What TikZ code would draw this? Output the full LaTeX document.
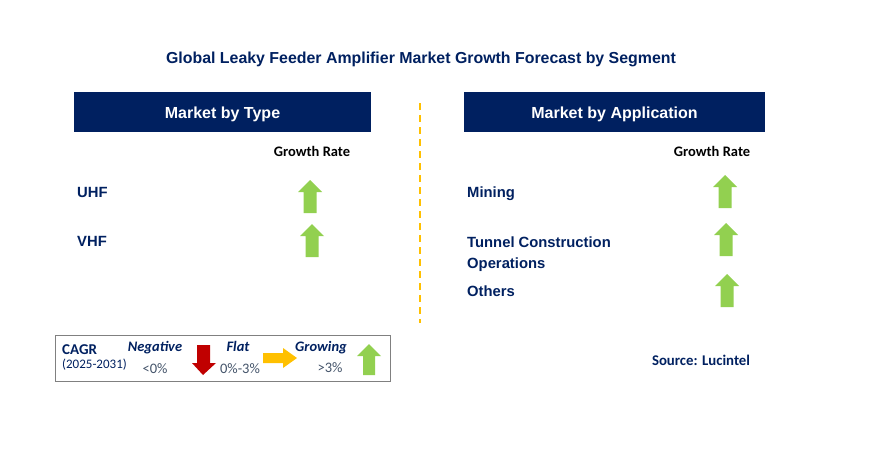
\documentclass[tikz,border=0pt]{standalone}
\usepackage{fontspec}
\setmainfont{Liberation Sans}
\newfontfamily\calfont{Carlito}
\definecolor{navy}{RGB}{0,32,96}
\definecolor{agreen}{RGB}{146,208,80}
\definecolor{ared}{RGB}{192,0,0}
\definecolor{ayellow}{RGB}{255,192,0}
\definecolor{lgray}{RGB}{68,84,106}
\definecolor{dashorange}{RGB}{255,192,0}
\tikzset{
  x=1pt,y=-1pt,
  hdr/.style={fill=navy,minimum width=297pt,minimum height=40pt,inner sep=0pt},
  hdrtxt/.style={text=white,font=\fontsize{16}{18}\selectfont\bfseries,inner sep=0pt,anchor=base},
  gr/.style={font=\calfont\fontsize{14.5}{16}\selectfont\bfseries,text=black,inner sep=0pt,anchor=base},
  item/.style={font=\fontsize{14.8}{17}\selectfont\bfseries,text=navy,anchor=base west,inner sep=0pt},
  leg/.style={font=\calfont\fontsize{14.5}{16}\selectfont,inner sep=0pt,anchor=base},
  legh/.style={font=\calfont\fontsize{14.5}{16}\selectfont\bfseries\itshape,text=navy,inner sep=0pt,anchor=base},
  uparr/.pic={\fill[agreen] (0,0) -- (12,12) -- (6.5,12) -- (6.5,33) -- (-6.5,33) -- (-6.5,12) -- (-12,12) -- cycle;},
}
\begin{document}
\begin{tikzpicture}
\useasboundingbox (0,0) rectangle (893,461);
\node[font=\fontsize{15.9}{18}\selectfont\bfseries,text=navy,inner sep=0pt,anchor=base] (title) at (421,63) {Global Leaky Feeder Amplifier Market Growth Forecast by Segment};
\node[hdr] (htype) at (222.5,112) {};
\node[hdrtxt] (htypet) at (222.5,118) {Market by Type};
\node[hdr,minimum width=301pt] (happ) at (614.5,112) {};
\node[hdrtxt] (happt) at (614.5,118) {Market by Application};
\coordinate (d1) at (420,103);
\coordinate (d2) at (420,323);
\draw[dashorange,line width=1.5pt,dash pattern=on 7pt off 5pt] (d1) -- (d2);
\node[gr] (gr1) at (312,156) {Growth Rate};
\node[gr] (gr2) at (712,156) {Growth Rate};
\node[item] (uhf) at (77,197) {UHF};
\node[item] (vhf) at (77,246) {VHF};
\pic (a1) at (310,180) {uparr};
\pic (a2) at (312,224) {uparr};
\node[item] (mining) at (467,197) {Mining};
\node[item] (tunnel) at (467,247) {Tunnel Construction};
\node[item] (ops) at (467,268) {Operations};
\node[item] (others) at (467,296) {Others};
\pic (a3) at (725,175) {uparr};
\pic (a4) at (726,223) {uparr};
\pic (a5) at (727,274) {uparr};
\node[font=\calfont\fontsize{14.8}{16}\selectfont\bfseries,text=navy,inner sep=0pt,anchor=base] (src) at (701,365) {Source: Lucintel};
% legend
\node[draw=gray,line width=1pt,minimum width=335pt,minimum height=46pt,inner sep=0pt] (legbox) at (222.5,358) {};
\node[leg,font=\calfont\fontsize{15}{16}\selectfont\bfseries,text=navy,anchor=base west] (cagr) at (62,354) {CAGR};
\node[leg,font=\calfont\fontsize{13}{15}\selectfont,text=navy,anchor=base west] (yrs) at (62,368) {(2025-2031)};
\node[legh] (neg) at (155,351) {Negative};
\node[leg,text=lgray] (negv) at (155,373) {<0\%};
\node[legh] (flat) at (238,351) {Flat};
\node[leg,text=lgray] (flatv) at (240,373) {0\%-3\%};
\node[legh] (grow) at (321,351) {Growing};
\node[leg,text=lgray] (growv) at (330,372) {>3\%};
\fill[ared] (203,375) -- (192,363) -- (197,363) -- (197,345) -- (210,345) -- (210,363) -- (216,363) -- cycle;
\fill[ayellow] (297,358) -- (283,348) -- (283,353) -- (263,353) -- (263,363) -- (283,363) -- (283,368) -- cycle;
\fill[agreen] (369,344) -- (381,356) -- (375,356) -- (375,375) -- (363,375) -- (363,356) -- (357,356) -- cycle;
\end{tikzpicture}
\end{document}
